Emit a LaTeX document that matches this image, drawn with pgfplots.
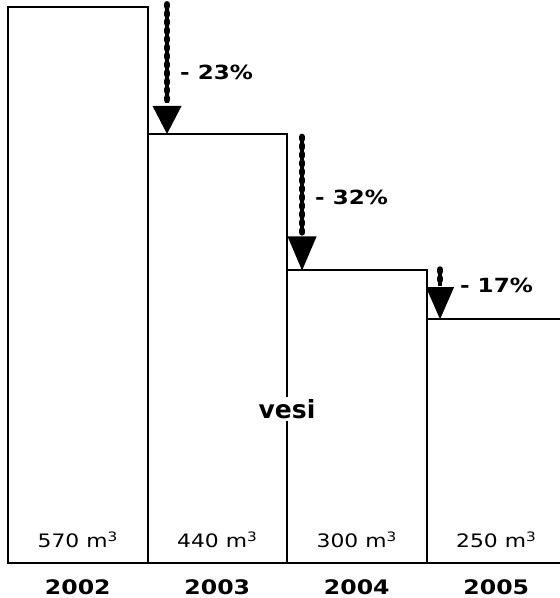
\documentclass[border=0pt]{standalone}
\usepackage{fontspec}
\setmainfont{DejaVu Sans}
\newfontfamily\lblfont[FakeStretch=1.18]{DejaVu Sans}
\usepackage{pgfplots}
\pgfplotsset{compat=1.18}
\tikzset{
  chain/.style={line width=6.5bp, line cap=round, dash pattern=on 2bp off 6.5bp},
  core/.style={line width=4bp},
}
\begin{document}
\begin{tikzpicture}
\useasboundingbox (-8bp,-35bp) rectangle (552bp,563bp);
\begin{axis}[
  at={(0,0)}, anchor=south west,
  scale only axis, width=552bp, height=563bp,
  xmin=-0.5, xmax=3.457, ymin=0, ymax=577.4,
  clip=false,
  axis line style={draw=none},
  major tick length=0pt,
  ytick=\empty,
  xtick={0,1,2,3},
  xticklabels={2002,2003,2004,2005},
  xticklabel style={font=\lblfont\bfseries\fontsize{20bp}{24bp}\selectfont, anchor=center, yshift=-24bp},
  ybar, bar width=1, bar shift=0pt,
]
\addplot[draw=black, fill=white, line width=2bp] coordinates {(0,570) (1,440) (2,300) (3,250)};
% value labels
\node[font=\lblfont\fontsize{18.5bp}{22bp}\selectfont] at (axis cs:0,23.6) {570 m\textsuperscript{3}};
\node[font=\lblfont\fontsize{18.5bp}{22bp}\selectfont] at (axis cs:1,23.6) {440 m\textsuperscript{3}};
\node[font=\lblfont\fontsize{18.5bp}{22bp}\selectfont] at (axis cs:2,23.6) {300 m\textsuperscript{3}};
\node[font=\lblfont\fontsize{18.5bp}{22bp}\selectfont] at (axis cs:3,23.6) {250 m\textsuperscript{3}};
% vesi
\node[font=\bfseries\fontsize{25bp}{28bp}\selectfont, fill=white, inner sep=2bp] at (axis cs:1.5,158) {vesi};
% arrows
\draw[core] (axis cs:0.640,572) -- (axis cs:0.640,472);
\draw[chain] (axis cs:0.640,573) -- (axis cs:0.640,472);
\fill (axis cs:0.640,440) -- ++(-14.5bp,28bp) -- ++(29bp,0bp) -- cycle;
\draw[core] (axis cs:1.608,436) -- (axis cs:1.608,336);
\draw[chain] (axis cs:1.608,437) -- (axis cs:1.608,336);
\fill (axis cs:1.608,300) -- ++(-14.5bp,34bp) -- ++(29bp,0bp) -- cycle;
\draw[core] (axis cs:2.597,300) -- (axis cs:2.597,284);
\draw[chain] (axis cs:2.597,301) -- (axis cs:2.597,284);
\fill (axis cs:2.597,250) -- ++(-14bp,32bp) -- ++(28bp,0bp) -- cycle;
% percentages
\node[font=\lblfont\bfseries\fontsize{19.5bp}{22bp}\selectfont, anchor=west, inner sep=0pt] at (axis cs:0.733,503.6) {- 23\%};
\node[font=\lblfont\bfseries\fontsize{19.5bp}{22bp}\selectfont, anchor=west, inner sep=0pt] at (axis cs:1.701,375.4) {- 32\%};
\node[font=\lblfont\bfseries\fontsize{19.5bp}{22bp}\selectfont, anchor=west, inner sep=0pt] at (axis cs:2.740,285.1) {- 17\%};
\end{axis}
\end{tikzpicture}
\end{document}
